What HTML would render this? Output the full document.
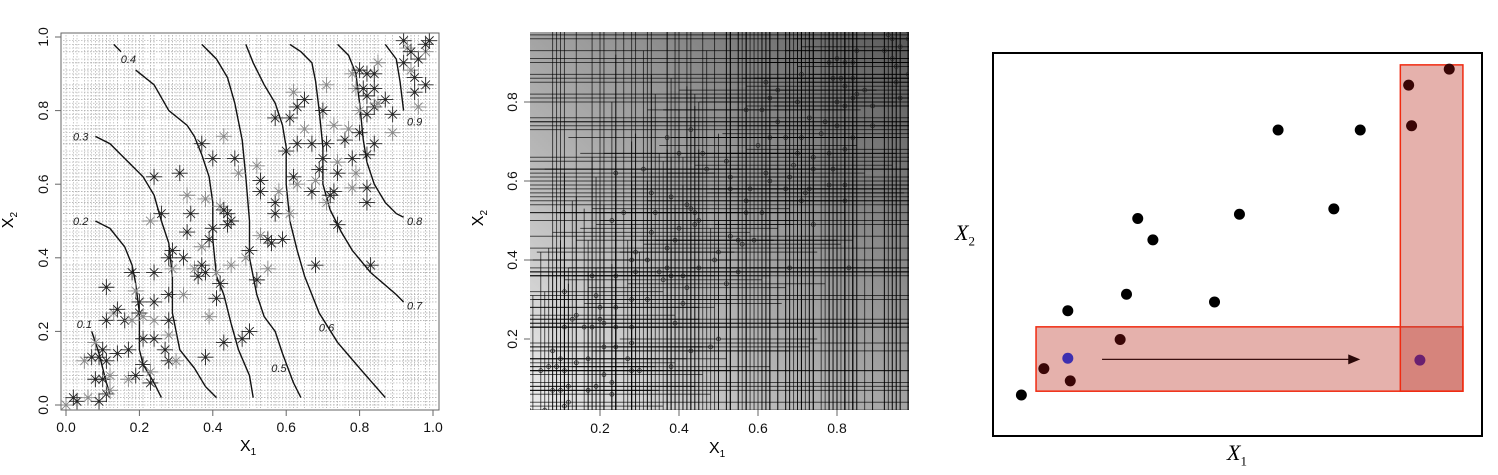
<!DOCTYPE html>
<html><head><meta charset="utf-8"><style>
html,body{margin:0;padding:0;background:#fff;}
svg{display:block;font-family:"Liberation Sans",sans-serif;}
</style></head><body>
<svg id="fig" width="1498" height="475" viewBox="0 0 1498 475" xmlns="http://www.w3.org/2000/svg">
<defs>
<linearGradient id="bg2" x1="0" y1="1" x2="1" y2="0">
<stop offset="0" stop-color="#ececec"/><stop offset="0.3" stop-color="#bdbdbd"/><stop offset="0.6" stop-color="#969696"/><stop offset="1" stop-color="#5a5a5a"/>
</linearGradient>
<clipPath id="clip2"><rect x="530" y="32" width="379" height="378"/></clipPath>
</defs>
<g id="p1"></g>
<g id="p2"></g>
<g id="p3"></g>
</svg>
<script>
const ptsX=[0.0,0.02,0.03,0.06,0.09,0.11,0.12,0.08,0.1,0.05,0.07,0.09,0.08,0.1,0.11,0.12,0.14,0.17,0.17,0.19,0.11,0.13,0.14,0.16,0.18,0.11,0.18,0.19,0.2,0.2,0.21,0.21,0.21,0.23,0.23,0.24,0.24,0.24,0.24,0.23,0.26,0.24,0.28,0.27,0.28,0.3,0.28,0.28,0.29,0.28,0.29,0.32,0.32,0.31,0.33,0.34,0.33,0.35,0.36,0.37,0.37,0.38,0.37,0.38,0.39,0.4,0.39,0.38,0.4,0.42,0.43,0.44,0.43,0.44,0.45,0.41,0.42,0.41,0.45,0.43,0.46,0.47,0.48,0.5,0.49,0.5,0.52,0.52,0.53,0.53,0.53,0.55,0.56,0.55,0.57,0.57,0.58,0.59,0.57,0.61,0.6,0.61,0.62,0.63,0.62,0.63,0.63,0.65,0.65,0.67,0.67,0.68,0.69,0.7,0.71,0.7,0.71,0.71,0.72,0.73,0.74,0.74,0.74,0.73,0.68,0.76,0.77,0.78,0.8,0.78,0.82,0.82,0.79,0.82,0.83,0.78,0.8,0.82,0.79,0.81,0.82,0.8,0.82,0.84,0.85,0.84,0.84,0.85,0.87,0.89,0.89,0.84,0.92,0.93,0.94,0.92,0.94,0.95,0.95,0.96,0.98,0.96,0.98,0.99,0.98];
const ptsY=[0.0,0.02,0.01,0.02,0.01,0.03,0.04,0.07,0.07,0.12,0.13,0.13,0.17,0.15,0.12,0.08,0.14,0.15,0.07,0.08,0.23,0.25,0.26,0.23,0.23,0.32,0.36,0.31,0.28,0.25,0.24,0.18,0.11,0.09,0.06,0.18,0.23,0.28,0.36,0.5,0.52,0.62,0.19,0.15,0.12,0.12,0.23,0.3,0.37,0.4,0.42,0.3,0.4,0.63,0.57,0.52,0.47,0.37,0.35,0.38,0.43,0.36,0.71,0.56,0.45,0.48,0.24,0.13,0.67,0.54,0.53,0.52,0.73,0.49,0.5,0.36,0.33,0.29,0.38,0.17,0.67,0.63,0.18,0.2,0.4,0.42,0.34,0.65,0.61,0.58,0.46,0.45,0.44,0.37,0.55,0.52,0.58,0.45,0.78,0.52,0.69,0.78,0.85,0.81,0.62,0.6,0.71,0.83,0.75,0.71,0.58,0.61,0.64,0.8,0.87,0.67,0.71,0.55,0.57,0.58,0.66,0.63,0.49,0.76,0.38,0.72,0.75,0.67,0.74,0.59,0.59,0.68,0.63,0.55,0.38,0.9,0.91,0.9,0.86,0.86,0.84,0.8,0.79,0.81,0.82,0.86,0.9,0.93,0.83,0.79,0.74,0.71,0.99,0.97,0.96,0.93,0.91,0.89,0.85,0.81,0.87,0.94,0.96,0.99,0.98];
const contourLevels=["0.1","0.2","0.3","0.4","0.5","0.6","0.7","0.8","0.9"];
const contourX=[
[0.07,0.08,0.09,0.1,0.11,0.12],
[0.08,0.12,0.16,0.18,0.19,0.2,0.2,0.21,0.24,0.26],
[0.08,0.12,0.17,0.21,0.24,0.26,0.28,0.29,0.29,0.31,0.35,0.38,0.41],
[0.19,0.24,0.28,0.33,0.35,0.37,0.39,0.4,0.4,0.41,0.43,0.45,0.47,0.5,0.51],
[0.37,0.41,0.44,0.46,0.48,0.49,0.5,0.5,0.52,0.54,0.57,0.59,0.62,0.64],
[0.49,0.51,0.54,0.57,0.59,0.6,0.6,0.61,0.63,0.65,0.67,0.69,0.74,0.8,0.87],
[0.61,0.64,0.67,0.68,0.69,0.7,0.7,0.72,0.75,0.78,0.83,0.9,0.92],
[0.74,0.77,0.79,0.8,0.81,0.82,0.84,0.87,0.9,0.92],
[0.87,0.9,0.91,0.92]];
const contourY=[
[0.2,0.17,0.14,0.1,0.06,0.03],
[0.5,0.48,0.43,0.38,0.33,0.25,0.15,0.11,0.06,0.02],
[0.73,0.71,0.66,0.62,0.57,0.5,0.44,0.35,0.25,0.15,0.1,0.05,0.02],
[0.91,0.87,0.8,0.76,0.73,0.68,0.62,0.55,0.45,0.35,0.3,0.22,0.15,0.08,0.02],
[0.98,0.94,0.89,0.82,0.72,0.62,0.5,0.4,0.3,0.24,0.2,0.14,0.06,0.02],
[0.98,0.93,0.87,0.82,0.76,0.7,0.6,0.5,0.42,0.35,0.3,0.25,0.17,0.1,0.02],
[0.98,0.96,0.93,0.88,0.8,0.7,0.6,0.53,0.47,0.42,0.36,0.3,0.28],
[0.98,0.95,0.9,0.82,0.72,0.66,0.6,0.55,0.52,0.51],
[0.98,0.94,0.88,0.8]];
const leadX=[0.13,0.15]; const leadY=[0.98,0.96];
const labelX=[0.05,0.04,0.04,0.17,0.58,0.71,0.95,0.95,0.95];
const labelY=[0.22,0.5,0.73,0.94,0.1,0.21,0.27,0.5,0.77];
const ticks1=[0,0.2,0.4,0.6,0.8,1.0];
const tickLabels1=["0.0","0.2","0.4","0.6","0.8","1.0"];
const ticks2=[0.2,0.4,0.6,0.8];
const tickLabels2=["0.2","0.4","0.6","0.8"];
const blackX=[0.058,0.153,0.273,0.296,0.327,0.453,0.504,0.583,0.697,0.751];
const blackY=[0.107,0.327,0.370,0.568,0.512,0.350,0.579,0.799,0.593,0.799];
const redX=[0.104,0.158,0.260,0.850,0.856,0.933];
const redY=[0.176,0.144,0.252,0.916,0.810,0.958];
const queryX=[0.153]; const queryY=[0.203];
const targetX=[0.873]; const targetY=[0.198];
const rectU0=[0.088,0.833], rectU1=[0.961,0.961], rectV0=[0.117,0.117], rectV1=[0.285,0.969];
const arrowU=[0.223,0.751], arrowV=[0.200,0.200];

const NS="http://www.w3.org/2000/svg";
function mk(parent,tag,attrs){const e=document.createElementNS(NS,tag);for(const k in attrs)e.setAttribute(k,attrs[k]);parent.appendChild(e);return e;}

// ---------- panel 1 ----------
const p1=document.getElementById('p1');
const x1=v=>66+367*v, y1=v=>405-368*v;
for(let i=0;i<ptsX.length;i++){
  const vl=mk(p1,'line',{x1:x1(ptsX[i]),x2:x1(ptsX[i]),y1:35,y2:408,stroke:'#b4b4b4','stroke-width':0.7,'stroke-dasharray':'1.5,1.5'});
  
  
  const hl=mk(p1,'line',{x1:63,x2:437,y1:y1(ptsY[i]),y2:y1(ptsY[i]),stroke:'#b4b4b4','stroke-width':0.7,'stroke-dasharray':'1.5,1.5'});
  
  
}
const ld=mk(p1,'path',{d:`M${x1(leadX[0])},${y1(leadY[0])}L${x1(leadX[1])},${y1(leadY[1])}`,stroke:'#111','stroke-width':1.4});


for(let c=0;c<contourLevels.length;c++){
  const d=contourX[c].map((v,j)=>(j?'L':'M')+x1(v).toFixed(1)+','+y1(contourY[c][j]).toFixed(1)).join(' ');
  const pl=mk(p1,'path',{d:d,fill:'none',stroke:'#111','stroke-width':1.4});
  
  
  const t=mk(p1,'text',{x:x1(labelX[c]),y:y1(labelY[c])+4,'font-size':11,'font-style':'italic','text-anchor':'middle',fill:'#222'});
  t.textContent=contourLevels[c];
  
  
}
for(let i=0;i<ptsX.length;i++){
  const cx=x1(ptsX[i]),cy=y1(ptsY[i]),r=6,s=4.3;
  const g=mk(p1,'path',{d:`M${cx-r-2},${cy}H${cx+r+2}M${cx},${cy-r-2}V${cy+r+2}M${cx-s},${cy-s}L${cx+s},${cy+s}M${cx-s},${cy+s}L${cx+s},${cy-s}`,stroke:i%3?'#222':'#888','stroke-width':0.9,fill:'none'});
  
  
}
mk(p1,'rect',{x:61,y:33,width:378,height:377,fill:'none',stroke:'#666','stroke-width':1});
for(let i=0;i<ticks1.length;i++){
  mk(p1,'line',{x1:x1(ticks1[i]),x2:x1(ticks1[i]),y1:410,y2:416,stroke:'#666'});
  const tx=mk(p1,'text',{x:x1(ticks1[i]),y:432,'font-size':14,'text-anchor':'middle',fill:'#111'});tx.textContent=tickLabels1[i];
  
  
  mk(p1,'line',{x1:55,x2:61,y1:y1(ticks1[i]),y2:y1(ticks1[i]),stroke:'#666'});
  const ty=mk(p1,'text',{x:0,y:0,'font-size':14,'text-anchor':'middle',fill:'#111',transform:`translate(48,${y1(ticks1[i])}) rotate(-90)`});ty.textContent=tickLabels1[i];
  
  
}
// ---------- panel 2 ----------
const p2=document.getElementById('p2');
const x2=v=>600+(v-0.2)*395, y2=v=>339-(v-0.2)*395;
mk(p2,'rect',{x:530,y:32,width:379,height:378,fill:'url(#bg2)'});
const g2=mk(p2,'g',{'clip-path':'url(#clip2)'});
for(let i=0;i<ptsX.length;i+=1){
  const full=ptsX[i]>0.5||i%4===0;
  const vl=mk(g2,'line',{x1:x2(ptsX[i]),x2:x2(ptsX[i]),y1:full?32:y2(ptsY[i]+0.3),y2:410,stroke:'#000','stroke-width':1,'stroke-opacity':0.65});
  
  
  const fh=i%3===0;
  const hl=mk(g2,'line',{x1:fh?530:x2(ptsX[i]-0.25),x2:fh?909:x2(ptsX[i]+0.25),y1:y2(ptsY[i]),y2:y2(ptsY[i]),stroke:'#000','stroke-width':1,'stroke-opacity':0.65});
  
  
}
for(let i=0;i<ptsX.length;i++){
  const c=mk(g2,'circle',{cx:x2(ptsX[i]),cy:y2(ptsY[i]),r:2,fill:'none',stroke:'#222','stroke-width':0.7});
  
  
}
for(let i=0;i<ticks2.length;i++){
  mk(p2,'line',{x1:x2(ticks2[i]),x2:x2(ticks2[i]),y1:410,y2:416,stroke:'#666'});
  const tx=mk(p2,'text',{x:x2(ticks2[i]),y:433,'font-size':14,'text-anchor':'middle',fill:'#111'});tx.textContent=tickLabels2[i];
  
  
  mk(p2,'line',{x1:524,x2:530,y1:y2(ticks2[i]),y2:y2(ticks2[i]),stroke:'#666'});
  const ty=mk(p2,'text',{x:0,y:0,'font-size':14,'text-anchor':'middle',fill:'#111',transform:`translate(517,${y2(ticks2[i])}) rotate(-90)`});ty.textContent=tickLabels2[i];
  
  
}
// ---------- panel 3 ----------
const p3=document.getElementById('p3');
const x3=u=>993+489*u, y3=v=>436-383*v;
mk(p3,'rect',{x:993,y:53,width:489,height:383,fill:'#fff',stroke:'#000','stroke-width':2});
for(let i=0;i<rectU0.length;i++){
  const r=mk(p3,'rect',{x:x3(rectU0[i]),y:y3(rectV1[i]),width:x3(rectU1[i])-x3(rectU0[i]),height:y3(rectV0[i])-y3(rectV1[i]),fill:'#c0453a','fill-opacity':0.42,stroke:'#f02a10','stroke-width':1.5});
  
  
}
const ar=mk(p3,'line',{x1:x3(arrowU[0]),y1:y3(arrowV[0]),x2:x3(arrowU[1])-9,y2:y3(arrowV[1]),stroke:'#3a0f0f','stroke-width':1.2});


const ax=x3(arrowU[1]),ay=y3(arrowV[1]);
mk(p3,'path',{d:`M${ax},${ay}L${ax-12},${ay-5}L${ax-12},${ay+5}Z`,fill:'#2a0808'});
function dots(X,Y,col,name){for(let i=0;i<X.length;i++){const c=mk(p3,'circle',{cx:x3(X[i]),cy:y3(Y[i]),r:5.5,fill:col});}}
dots(blackX,blackY,'#000','sample-point');
dots(redX,redY,'#3a0606','neighbor-point');
dots(queryX,queryY,'#3d2fb0','query-point');
dots(targetX,targetY,'#6a2070','target-point');
</script>
<div style="position:absolute;left:0;top:0;width:1498px;height:475px;pointer-events:none;font-family:'Liberation Sans',sans-serif;">
<div style="position:absolute;left:240px;top:438px;font-size:16px;">X<sub style="font-size:10px">1</sub></div>
<div style="position:absolute;left:2px;top:210px;font-size:16px;transform:rotate(-90deg);">X<sub style="font-size:10px">2</sub></div>
<div style="position:absolute;left:709px;top:440px;font-size:16px;">X<sub style="font-size:10px">1</sub></div>
<div style="position:absolute;left:472px;top:208px;font-size:16px;transform:rotate(-90deg);">X<sub style="font-size:10px">2</sub></div>
<div style="position:absolute;left:1227px;top:440px;font-size:22px;font-family:'Liberation Serif',serif;font-style:italic;">X<sub style="font-size:13px;font-style:normal">1</sub></div>
<div style="position:absolute;left:955px;top:220px;font-size:22px;font-family:'Liberation Serif',serif;font-style:italic;">X<sub style="font-size:13px;font-style:normal">2</sub></div>
</div>
</body></html>
